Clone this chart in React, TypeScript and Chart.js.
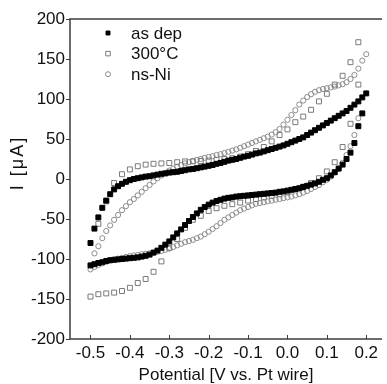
import React, { useEffect, useRef } from 'react';
import { Chart, registerables } from 'chart.js';
import { drawPoint } from 'chart.js/helpers';

Chart.register(...registerables);

const FONT = '"Liberation Sans", Arial, Helvetica, sans-serif';

const seriesLabels = ['as dep', '300°C', 'ns-Ni'];
const xAxisTitle = 'Potential [V vs. Pt wire]';
const yAxisTitle = 'I [\u03bcA]';
const xTickValues = [-0.5, -0.4, -0.3, -0.2, -0.1, 0.0, 0.1, 0.2];
const yTickValues = [-200, -150, -100, -50, 0, 50, 100, 150, 200];

// potential grid, V vs. Pt wire
const potentialFine = [
  -0.50, -0.49, -0.48, -0.47, -0.46, -0.45, -0.44, -0.43, -0.42, -0.41,
  -0.40, -0.39, -0.38, -0.37, -0.36, -0.35, -0.34, -0.33, -0.32, -0.31,
  -0.30, -0.29, -0.28, -0.27, -0.26, -0.25, -0.24, -0.23, -0.22, -0.21,
  -0.20, -0.19, -0.18, -0.17, -0.16, -0.15, -0.14, -0.13, -0.12, -0.11,
  -0.10, -0.09, -0.08, -0.07, -0.06, -0.05, -0.04, -0.03, -0.02, -0.01,
  0.00, 0.01, 0.02, 0.03, 0.04, 0.05, 0.06, 0.07, 0.08, 0.09,
  0.10, 0.11, 0.12, 0.13, 0.14, 0.15, 0.16, 0.17, 0.18, 0.19, 0.20,
];
const potentialCoarse = [
  -0.50, -0.48, -0.46, -0.44, -0.42, -0.40, -0.38, -0.36, -0.34, -0.32,
  -0.30, -0.28, -0.26, -0.24, -0.22, -0.20, -0.18, -0.16, -0.14, -0.12,
  -0.10, -0.08, -0.06, -0.04, -0.02, 0.00, 0.02, 0.04, 0.06, 0.08,
  0.10, 0.12, 0.14, 0.16, 0.18,
];

// as dep: forward sweep -0.50 -> 0.20
const asDepForward = [
  -80, -62, -48, -36, -27, -19, -13, -9, -6, -3.5,
  -1.5, 0, 1, 2, 3, 3.5, 4.5, 5.5, 6.5, 7,
  8, 8.5, 9, 10, 11, 12, 12.5, 13.5, 14.5, 15.5,
  16.5, 17.5, 19, 20, 21.5, 23, 24, 25, 26.5, 28,
  29, 30.5, 32, 33, 34.5, 36, 37.5, 39, 40.5, 42,
  44, 46, 48, 50, 52, 55, 58, 61, 64, 67,
  70, 73, 76, 79, 82, 85, 89, 93, 97, 102, 107,
];
// as dep: reverse sweep 0.19 -> -0.50
const asDepReverse = [
  82, 66, 45, 33, 25, 18, 13, 8.5, 4.5, 1,
  -1, -3.5, -5.5, -7, -8.5, -10, -11.5, -12.5, -13.5, -14.5,
  -15.5, -16, -17, -17.5, -18, -18.5, -19, -19.5, -20, -20.5,
  -21, -21.5, -22, -23, -23.5, -24.5, -26, -27.5, -29.5, -32,
  -35, -38.5, -43, -47.5, -52.5, -57.5, -63, -68, -73, -78,
  -82, -86, -89.5, -92, -94.5, -96, -97, -98, -98.5, -99,
  -99.5, -100, -100.5, -101, -101.5, -102.5, -104, -105, -106.5, -108,
];
// 300°C: forward sweep -0.48 -> 0.18
const annealedForward = [
  -56, -28, -5, 6, 12, 16, 18, 19, 19.5, 20,
  21, 22, 22, 22.5, 23, 24, 25, 26, 28, 31,
  35, 40, 47, 55, 62, 71, 78, 86.5, 97, 106.5,
  118, 129, 146, 171,
];
// 300°C: reverse sweep 0.18 -> -0.50
const annealedReverse = [
  118, 69, 40, 21, 9.5, 1, -5, -9.5, -13, -16.5,
  -19, -21, -23, -25, -27, -29.5, -31.5, -33.5, -36.5, -40,
  -46, -51, -61, -75, -86, -103, -116, -125, -130, -136,
  -140, -142, -143, -144, -147,
];
// ns-Ni: forward sweep -0.49 -> 0.20
const nsNiForward = [
  -93, -84, -74, -65, -58, -51, -45, -39, -34, -29,
  -25, -20.5, -16, -11.5, -7.5, -3, 1, 4.5, 7.5, 10.5,
  13, 15.5, 17.5, 19.5, 21, 22.5, 24, 25, 26.5, 27.5,
  28.5, 30, 31, 32.5, 34, 35.5, 37, 39, 41, 43,
  45, 47, 49, 51, 53, 55.5, 58.5, 62.5, 68, 74,
  80, 86, 93, 98, 102.5, 106, 109, 111, 112.5, 113.5,
  114.5, 115.5, 117, 118.5, 121, 125, 130, 138, 148, 156,
];
// ns-Ni: reverse sweep 0.18 -> -0.50
const nsNiReverse = [
  76, 55, 41, 30, 20, 13, 8, 3, -1, -4,
  -7.5, -10, -12.5, -15, -17, -19, -20.5, -22, -23, -24,
  -25, -26, -27, -28, -29, -30, -31, -33, -35, -37,
  -39, -42, -45, -48, -51, -55, -59, -62.5, -66, -69,
  -72, -74, -76, -77.5, -79, -81, -83, -85, -87, -88.5,
  -90, -91, -92, -93, -93.5, -94, -95, -95.5, -96.5, -97.5,
  -98.5, -99.5, -100.5, -102, -103.5, -105.5, -107.5, -110, -113,
];

function toPoints(xs: number[], ys: number[]) {
  return ys.map((y, i) => ({ x: xs[i], y }));
}

const asDepData = toPoints(potentialFine, asDepForward).concat(
  toPoints(potentialFine.slice(0, 70).reverse(), asDepReverse)
);
const annealedData = toPoints(potentialCoarse.slice(1), annealedForward).concat(
  toPoints(potentialCoarse.slice().reverse(), annealedReverse)
);
const nsNiData = toPoints(potentialFine.slice(1), nsNiForward).concat(
  toPoints(potentialFine.slice(0, 69).reverse(), nsNiReverse)
);

const AXIS_COLOR = '#3c3c3c';
const TEXT_COLOR = '#111111';
const legendRadius = [2.8, 3.2, 2.5];

const framePlugin = {
  id: 'cvFrame',
  beforeDatasetsDraw(chart: any) {
    const { ctx, chartArea: a, scales } = chart;
    ctx.save();
    ctx.strokeStyle = AXIS_COLOR;
    ctx.lineWidth = 1.5;
    ctx.beginPath();
    ctx.moveTo(a.right, a.top);
    ctx.lineTo(a.left, a.top);
    ctx.lineTo(a.left, a.bottom);
    ctx.lineTo(a.right, a.bottom);
    ctx.stroke();
    ctx.lineWidth = 1;
    ctx.beginPath();
    for (const v of xTickValues) {
      const px = Math.round(scales.x.getPixelForValue(v)) + 0.5;
      ctx.moveTo(px, a.bottom);
      ctx.lineTo(px, a.bottom - 4);
    }
    for (const v of yTickValues) {
      const py = Math.round(scales.y.getPixelForValue(v)) + 0.5;
      ctx.moveTo(a.left, py);
      ctx.lineTo(a.left - 4, py);
    }
    ctx.stroke();
    ctx.restore();
  },
  afterDatasetsDraw(chart: any) {
    const { ctx, chartArea: a } = chart;
    ctx.save();
    // legend
    chart.data.datasets.forEach((ds: any, i: number) => {
      const y = a.top + 14 + i * 20.6;
      ctx.strokeStyle = ds.borderColor;
      ctx.fillStyle = ds.backgroundColor;
      ctx.lineWidth = ds.borderWidth;
      drawPoint(ctx, { pointStyle: ds.pointStyle, radius: legendRadius[i], borderWidth: ds.borderWidth, rotation: 0 }, a.left + 38, y);
      ctx.fillStyle = TEXT_COLOR;
      ctx.font = `17px ${FONT}`;
      ctx.textAlign = 'left';
      ctx.textBaseline = 'middle';
      ctx.fillText(ds.label, a.left + 61, y + 1);
    });
    // y title
    ctx.translate(18, (a.top + a.bottom) / 2 - 15);
    ctx.rotate(-Math.PI / 2);
    ctx.fillStyle = TEXT_COLOR;
    ctx.font = `18px ${FONT}`;
    (ctx as any).letterSpacing = '2px';
    ctx.textAlign = 'center';
    ctx.textBaseline = 'middle';
    ctx.fillText(yAxisTitle, 1, 0);
    ctx.restore();
  },
};

export default function App() {
  const canvasRef = useRef<HTMLCanvasElement | null>(null);

  useEffect(() => {
    document.body.style.margin = '0';
    const canvas = canvasRef.current;
    if (!canvas) return;
    const chart = new Chart(canvas, {
      type: 'scatter',
      data: {
        datasets: [
          {
            label: seriesLabels[0],
            data: asDepData,
            pointStyle: 'rect',
            pointRadius: 3.5,
            borderWidth: 1,
            borderColor: '#000000',
            backgroundColor: '#000000',
            showLine: false,
          },
          {
            label: seriesLabels[1],
            data: annealedData,
            pointStyle: 'rect',
            pointRadius: 3.5,
            borderWidth: 1,
            borderColor: '#7a7a7a',
            backgroundColor: 'rgba(255,255,255,0)',
            showLine: false,
          },
          {
            label: seriesLabels[2],
            data: nsNiData,
            pointStyle: 'circle',
            pointRadius: 2.6,
            borderWidth: 1,
            borderColor: '#8c8c8c',
            backgroundColor: 'rgba(255,255,255,0)',
            showLine: false,
          },
        ],
      },
      options: {
        animation: false,
        responsive: false,
        devicePixelRatio: 1,
        layout: { padding: { top: 19, right: 0, left: 0, bottom: 0 } },
        plugins: { legend: { display: false }, tooltip: { enabled: false } },
        scales: {
          x: {
            type: 'linear',
            min: -0.552,
            max: 0.24,
            afterFit: (s: any) => { s.height = 45; },
            afterBuildTicks: (s: any) => { s.ticks = xTickValues.map((v) => ({ value: v })); },
            ticks: {
              font: { family: FONT, size: 17 },
              color: TEXT_COLOR,
              padding: 4,
              maxRotation: 0,
              autoSkip: false,
              callback: (v: any) => Number(v).toFixed(1),
            },
            grid: { display: false, drawTicks: false },
            border: { display: false },
            title: {
              display: true,
              text: xAxisTitle,
              font: { family: FONT, size: 17, lineHeight: 1 },
              color: TEXT_COLOR,
              padding: { top: 0, bottom: 0 },
            },
          },
          y: {
            type: 'linear',
            min: -200,
            max: 200,
            afterFit: (s: any) => { s.width = 70; },
            afterBuildTicks: (s: any) => { s.ticks = yTickValues.map((v) => ({ value: v })); },
            ticks: {
              font: { family: FONT, size: 17 },
              color: TEXT_COLOR,
              padding: 5,
              autoSkip: false,
              callback: (v: any) => String(v),
            },
            grid: { display: false, drawTicks: false },
            border: { display: false },
          },
        },
      },
      plugins: [framePlugin],
    } as any);
    return () => chart.destroy();
  }, []);

  return (
    <div style={{ position: 'fixed', left: 0, top: 0, width: 387, height: 384, background: '#fff' }}>
      <canvas ref={canvasRef} width={387} height={384} style={{ display: 'block', width: 387, height: 384 }} />
    </div>
  );
}
